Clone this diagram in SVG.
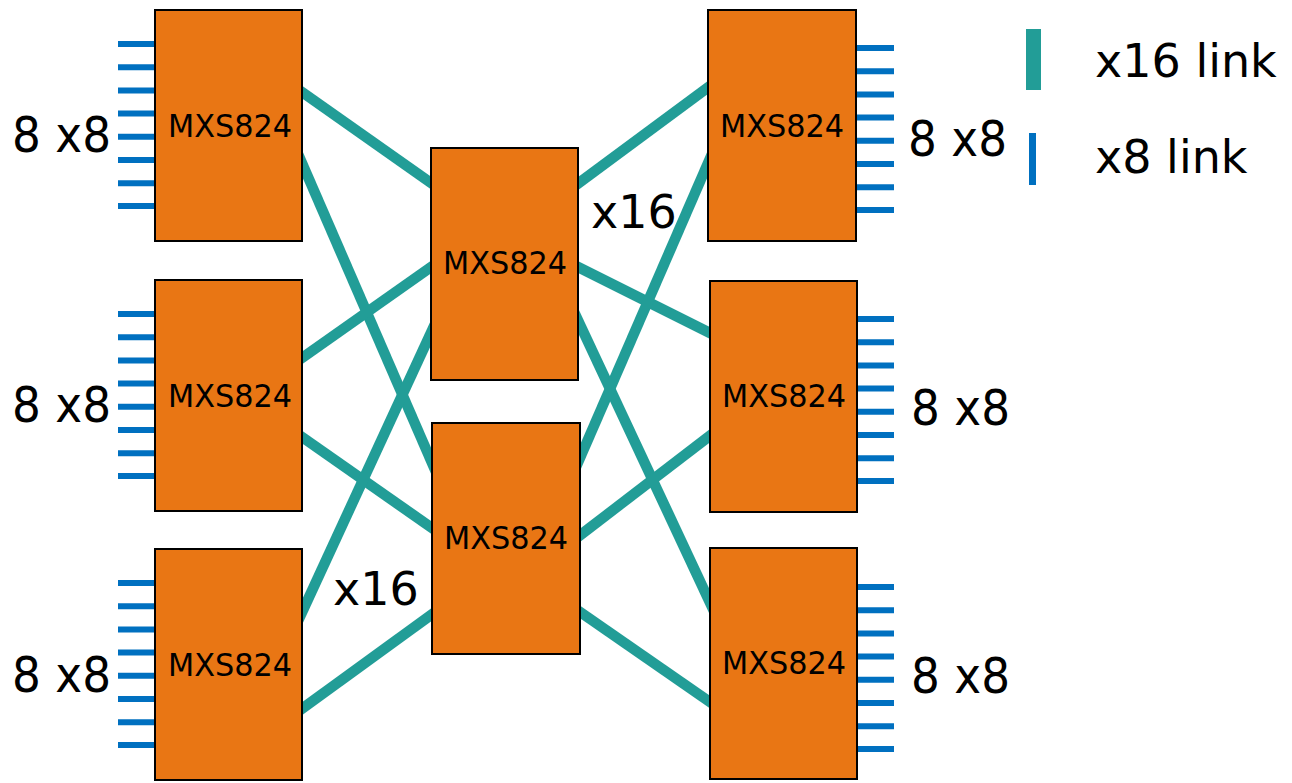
<svg xmlns="http://www.w3.org/2000/svg" width="1292" height="783" viewBox="0 0 1292 783">
<style>
.box{fill:#E97614;stroke:#000;stroke-width:2}
.chip{font-family:"DejaVu Sans",Verdana,sans-serif;font-size:32px;fill:#000;text-anchor:middle}
.lbl{font-family:"DejaVu Sans",Verdana,sans-serif;font-size:50px;fill:#000}
.x16{font-family:"DejaVu Sans",Verdana,sans-serif;font-size:46px;fill:#000}
.pin{stroke:#0070C0;stroke-width:6}
.link{stroke:#229D97;stroke-width:10.5;fill:none}
</style>
<defs>
<g id="pinsL">
<line class="pin" x1="118" y1="0" x2="160" y2="0"/>
<line class="pin" x1="118" y1="23.2" x2="160" y2="23.2"/>
<line class="pin" x1="118" y1="46.4" x2="160" y2="46.4"/>
<line class="pin" x1="118" y1="69.6" x2="160" y2="69.6"/>
<line class="pin" x1="118" y1="92.8" x2="160" y2="92.8"/>
<line class="pin" x1="118" y1="116" x2="160" y2="116"/>
<line class="pin" x1="118" y1="139.2" x2="160" y2="139.2"/>
<line class="pin" x1="118" y1="162" x2="160" y2="162"/>
</g>
<g id="pinsR">
<line class="pin" x1="850" y1="0" x2="894" y2="0"/>
<line class="pin" x1="850" y1="23.2" x2="894" y2="23.2"/>
<line class="pin" x1="850" y1="46.4" x2="894" y2="46.4"/>
<line class="pin" x1="850" y1="69.6" x2="894" y2="69.6"/>
<line class="pin" x1="850" y1="92.8" x2="894" y2="92.8"/>
<line class="pin" x1="850" y1="116" x2="894" y2="116"/>
<line class="pin" x1="850" y1="139.2" x2="894" y2="139.2"/>
<line class="pin" x1="850" y1="162" x2="894" y2="162"/>
</g>
</defs>
<rect width="1292" height="783" fill="#fff"/>
<g id="connectors">
<line class="link" x1="292" y1="85" x2="441" y2="190"/>
<line class="link" x1="292" y1="140" x2="442" y2="486"/>
<line class="link" x1="292" y1="365" x2="441" y2="260"/>
<line class="link" x1="292" y1="430" x2="442" y2="535"/>
<line class="link" x1="292" y1="634" x2="441" y2="311"/>
<line class="link" x1="292" y1="716" x2="442" y2="607"/>
<line class="link" x1="568" y1="191" x2="718" y2="80"/>
<line class="link" x1="568" y1="262" x2="720" y2="338"/>
<line class="link" x1="568" y1="299" x2="720" y2="624"/>
<line class="link" x1="570" y1="481" x2="718" y2="140"/>
<line class="link" x1="570" y1="543" x2="720" y2="428"/>
<line class="link" x1="570" y1="605" x2="720" y2="709"/>
</g>
<g id="L1">
<use href="#pinsL" y="44"/>
<rect class="box" x="155" y="10" width="147" height="231"/>
<text class="chip" x="230" y="137" textLength="124" lengthAdjust="spacingAndGlyphs">MXS824</text>
<text class="lbl" x="12" y="152" textLength="99" lengthAdjust="spacingAndGlyphs">8 x8</text>
</g>
<g id="L2">
<use href="#pinsL" y="314"/>
<rect class="box" x="155" y="280" width="147" height="231"/>
<text class="chip" x="230" y="407" textLength="124" lengthAdjust="spacingAndGlyphs">MXS824</text>
<text class="lbl" x="12" y="422" textLength="99" lengthAdjust="spacingAndGlyphs">8 x8</text>
</g>
<g id="L3">
<use href="#pinsL" y="583"/>
<rect class="box" x="155" y="549" width="147" height="231"/>
<text class="chip" x="230" y="676" textLength="124" lengthAdjust="spacingAndGlyphs">MXS824</text>
<text class="lbl" x="12" y="692" textLength="99" lengthAdjust="spacingAndGlyphs">8 x8</text>
</g>
<g id="C1">
<rect class="box" x="431" y="148" width="147" height="232"/>
<text class="chip" x="505" y="274" textLength="124" lengthAdjust="spacingAndGlyphs">MXS824</text>
</g>
<g id="C2">
<rect class="box" x="432" y="423" width="148" height="231"/>
<text class="chip" x="506" y="549" textLength="124" lengthAdjust="spacingAndGlyphs">MXS824</text>
</g>
<g id="R1">
<use href="#pinsR" y="48"/>
<rect class="box" x="708" y="10" width="148" height="231"/>
<text class="chip" x="782" y="137" textLength="124" lengthAdjust="spacingAndGlyphs">MXS824</text>
<text class="lbl" x="908" y="156" textLength="99" lengthAdjust="spacingAndGlyphs">8 x8</text>
</g>
<g id="R2">
<use href="#pinsR" y="319"/>
<rect class="box" x="710" y="281" width="147" height="231"/>
<text class="chip" x="784" y="407" textLength="124" lengthAdjust="spacingAndGlyphs">MXS824</text>
<text class="lbl" x="911" y="425" textLength="99" lengthAdjust="spacingAndGlyphs">8 x8</text>
</g>
<g id="R3">
<use href="#pinsR" y="587"/>
<rect class="box" x="710" y="548" width="147" height="231"/>
<text class="chip" x="784" y="674" textLength="124" lengthAdjust="spacingAndGlyphs">MXS824</text>
<text class="lbl" x="911" y="693" textLength="99" lengthAdjust="spacingAndGlyphs">8 x8</text>
</g>
<g id="labels">
<text class="x16" x="591" y="228">x16</text>
<text class="x16" x="333" y="605">x16</text>
</g>
<g id="legend">
<rect x="1026" y="29" width="15" height="61" fill="#229D97"/>
<rect x="1029" y="133" width="7" height="52" fill="#0070C0"/>
<text class="x16" x="1095" y="77">x16 link</text>
<text class="x16" x="1095" y="173">x8 link</text>
</g>
</svg>
